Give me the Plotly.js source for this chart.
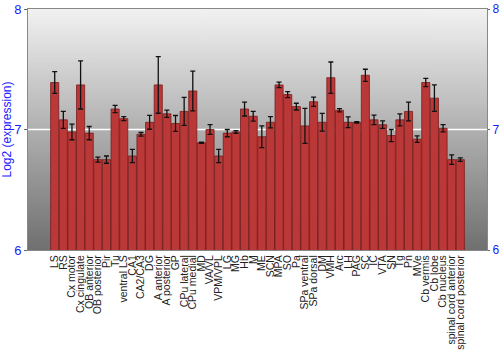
<!DOCTYPE html>
<html><head><meta charset="utf-8">
<script src="https://cdn.plot.ly/plotly-3.0.1.min.js"></script>
<style>html,body{margin:0;padding:0;background:#fff}#chart{width:500px;height:350px}</style>
</head><body><div id="chart"></div>
<script>
const categories = ["LS","RS","Cx motor","Cx cingulate","OB anterior","OB posterior","Pir","Tu","ventral LS","CA1","CA2/CA3","DG","A anterior","A posterior","GP","CPu lateral","CPu medial","MD","VA/VL","VPM/VPL","LG","MG","Hb","M","ME","SCN","MPA","SO","Pa","SPa ventral","SPa dorsal","DM","VMH","Arc","LH","PAG","SC","IC","VTA","SN","Tg","Pn","MVe","Cb vermis","Cb lobe","Cb nucleus","spinal cord anterior","spinal cord posterior"];
const values = [7.39,7.08,6.98,7.37,6.97,6.75,6.75,7.17,7.09,6.78,6.96,7.06,7.37,7.13,7.05,7.15,7.32,6.89,7.00,6.78,6.97,6.98,7.17,7.11,6.94,7.06,7.37,7.29,7.19,7.03,7.23,7.06,7.43,7.16,7.06,7.06,7.45,7.08,7.04,6.95,7.08,7.15,6.92,7.39,7.26,7.01,6.75,6.75];
const errors = [0.09,0.07,0.065,0.2,0.055,0.02,0.03,0.03,0.017,0.055,0.015,0.058,0.235,0.03,0.066,0.116,0.165,0.005,0.04,0.055,0.03,0.011,0.058,0.04,0.09,0.047,0.023,0.025,0.028,0.145,0.038,0.074,0.13,0.013,0.045,0.006,0.05,0.039,0.031,0.05,0.05,0.078,0.027,0.035,0.11,0.03,0.04,0.015];
const yTicks = [6,7,8];

function gradientURL(){
  const c = document.createElement('canvas'); c.width = 4; c.height = 256;
  const g = c.getContext('2d');
  const gr = g.createLinearGradient(0,0,0,256);
  gr.addColorStop(0,'#f2f2f2'); gr.addColorStop(0.5,'#b0b0b0'); gr.addColorStop(1,'#707070');
  g.fillStyle = gr; g.fillRect(0,0,4,256);
  return c.toDataURL('image/png');
}

const blue = '#1a1aff';
const data = [
  {type:'bar', x:categories, y:values, base:0,
   marker:{color:'#bb3838', line:{color:'#7a1c1c', width:0.8}},
   error_y:{type:'data', array:errors, visible:true, color:'#111', thickness:1.3, width:2.5},
   hoverinfo:'skip'},
  {type:'scatter', x:categories, y:values, yaxis:'y2', mode:'markers',
   marker:{opacity:0}, hoverinfo:'skip', showlegend:false}
];
const layout = {
  width:500, height:350,
  margin:{l:28, r:13, t:9, b:100},
  paper_bgcolor:'#ffffff', plot_bgcolor:'rgba(0,0,0,0)',
  showlegend:false, bargap:0.06,
  font:{family:'Liberation Sans, Arial, sans-serif', color:'#222'},
  xaxis:{type:'category', tickmode:'array', tickvals:categories, ticktext:categories,
    tickangle:-90, tickfont:{size:10.5, color:'#222'},
    showline:true, mirror:true, linecolor:'#888', linewidth:1, ticks:'', showgrid:false, automargin:false},
  yaxis:{range:[6,8], tickvals:yTicks, ticktext:yTicks.map(String), tickfont:{size:13, color:blue},
    showline:true, linecolor:'#888', linewidth:1, ticks:'outside', ticklen:3, tickcolor:'#666',
    showgrid:false, zeroline:false,
    title:{text:'Log2 (expression)', font:{size:12, color:blue}, standoff:2}, automargin:false},
  yaxis2:{range:[6,8], overlaying:'y', side:'right', tickvals:yTicks, ticktext:yTicks.map(String),
    tickfont:{size:12, color:blue}, showline:true, linecolor:'#888', linewidth:1,
    ticks:'outside', ticklen:2, tickcolor:'#666', showgrid:false, zeroline:false, automargin:false},
  shapes:[{type:'line', xref:'paper', yref:'y', x0:0, x1:1, y0:7, y1:7, layer:'below',
    line:{color:'#ffffff', width:1.5}}],
  images:[{source:gradientURL(), xref:'paper', yref:'paper', x:0, y:1, sizex:1, sizey:1,
    sizing:'stretch', layer:'below', xanchor:'left', yanchor:'top'}]
};
Plotly.newPlot('chart', data, layout, {staticPlot:true, displayModeBar:false});
</script></body></html>
